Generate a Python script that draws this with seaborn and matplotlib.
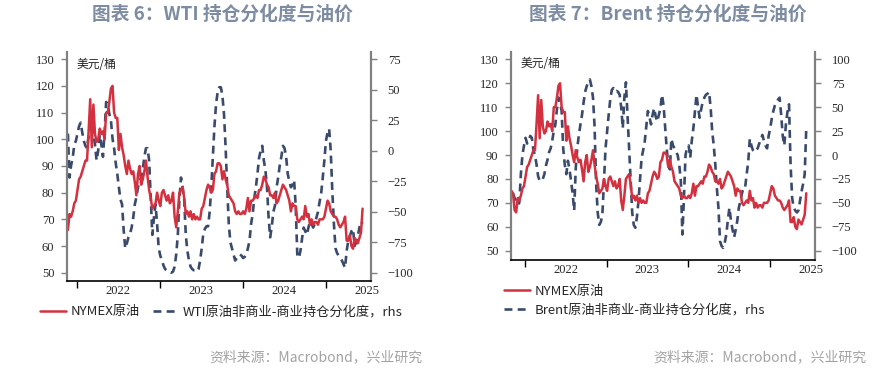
import pandas as pd
import numpy as np
import matplotlib
matplotlib.use('Agg')
import matplotlib.pyplot as plt
import matplotlib.dates as mdates
import seaborn as sns

# weekly data, Tuesday report dates
start_date = '2021-11-02'

# NYMEX crude (USD/bbl)
oil = [75, 74, 67, 66, 72, 71, 73, 76,
       77, 81, 85, 86, 88, 90, 92, 92, 103, 115, 97, 113, 102,
       99, 100, 104, 102, 103, 100, 110, 110, 114, 119, 120, 110, 108,
       108, 96, 102, 97, 94, 90, 87, 92, 89, 87, 88, 84, 79,
       87, 90, 83, 85, 88, 92, 86, 81, 78, 74, 75, 76, 80,
       77, 75, 80, 81, 79, 77, 79, 76, 77, 80, 71, 67, 73,
       80, 81, 82, 78, 72, 73, 71, 73, 70, 72, 70, 71, 70,
       70, 74, 75, 78, 81, 83, 82, 80, 81, 87, 88, 91, 91,
       90, 85, 88, 85, 83, 79, 78, 77, 76, 73, 72, 73, 72,
       72, 73, 72, 74, 78, 73, 77, 77, 78, 79, 78, 81, 81,
       83, 86, 85, 83, 82, 79, 79, 78, 80, 76, 77, 79, 81,
       83, 82, 81, 79, 77, 73, 76, 75, 75, 70, 69, 70, 71,
       70, 75, 71, 72, 68, 70, 68, 69, 69, 68, 70, 70, 70, 71,
       74, 77, 76, 73, 72, 71, 71, 70, 68, 67, 68, 69,
       71, 62, 62, 64, 60, 59, 63, 62, 61, 63, 65, 74]

# WTI non-commercial minus commercial positioning (rhs), starts 4th week
wti_pos = [14, -22, -12, -6, 5, 8, 14, 20, 23, 15, 8, 4, 2, 12, 20, 24, 14, 5,
           -8, 0, 13, 5, -5, 15, 40, 38, 30, 25, 10, 2, -10, -19, -30, -40, -44,
           -65, -80, -76, -71, -68, -63, -55, -44, -38, -30, -25, -22, -15, -5, 2,
           2, -8, -38, -69, -55, -44, -60, -80, -86, -90, -94, -97, -98, -99, -99,
           -100, -99, -95, -85, -69, -40, -22, -30, -40, -69, -82, -90, -95, -97,
           -98, -98, -99, -97, -90, -80, -68, -64, -62, -62, -50, -30, -5, 20, 38,
           48, 52, 52, 45, 30, 3, -30, -60, -75, -80, -85, -90, -88, -86, -85,
           -86, -88, -87, -85, -80, -74, -60, -52, -39, -30, -19, -6, 0, 4, -8,
           -16, -30, -55, -71, -62, -50, -45, -30, -22, -12, -5, 4, 2, -5, -19,
           -25, -30, -28, -24, -45, -85, -88, -82, -72, -63, -66, -69, -63, -58,
           -60, -63, -60, -55, -50, -42, -35, -22, -8, 8, 15, 18, 0, -33, -60,
           -80, -84, -86, -88, -90, -93, -96, -82, -74, -70, -66, -64, -78, -75,
           -70, -63, -58, -60]

# Brent non-commercial minus commercial positioning (rhs), starts 2nd week
brent_pos = [-40, -45, -48, -52, -50, -20, 0, 10, 18, 12, 15, 20, 18, 5, 0, -10,
             -22, -27, -27, -25, -20, -11, -5, 3, 7, 15, 25, 32, 48, 60, 55, 46,
             7, -10, -20, -6, -15, -27, -40, -58, -14, 8, 21, 32, 42, 55, 66, 72,
             76, 79, 72, 60, 30, -30, -60, -73, -70, -62, -27, 7, 25, 42, 58, 68,
             70, 66, 67, 66, 63, 50, 28, 60, 76, 42, 7, -27, -60, -73, -76, -65,
             -48, -25, -3, 5, 14, 30, 46, 40, 32, 42, 49, 40, 35, 42, 49, 63, 52,
             30, 7, -10, -15, 17, 10, 7, 3, 0, -10, -27, -83, -45, 0, 8, 10, -3,
             15, 28, 45, 63, 50, 39, 48, 56, 60, 63, 64, 66, 50, 25, 10, -10, -35,
             -55, -90, -95, -97, -92, -83, -68, -55, -69, -78, -86, -78, -69, -55,
             -48, -40, -34, -34, -20, -7, 17, 10, 5, 3, 5, 7, 12, 16, 21, 15, 10,
             7, 20, 28, 38, 46, 52, 56, 58, 60, 42, 20, 10, 32, 45, 53, -10, -45,
             -55, -58, -60, -58, -48, -38, -30, -20, 28]

year_ticks = ['2022', '2023', '2024', '2025']

RED = '#d3313f'
NAVY = '#3a4a6c'
TITLE_C = '#7d8ca2'
GRAY = '#808080'

sns.set_style('white')
plt.rcParams['font.family'] = ['Noto Sans CJK SC', 'DejaVu Sans']
NUM_FONT = 'Liberation Serif'

dates = pd.date_range(start_date, periods=len(oil), freq='7D')
oil_df = pd.DataFrame({'date': dates, 'oil': oil})
wti_df = pd.DataFrame({'date': dates[3:3 + len(wti_pos)], 'pos': wti_pos[:len(dates) - 3]})
brent_df = pd.DataFrame({'date': dates[1:1 + len(brent_pos)], 'pos': brent_pos[:len(dates) - 1]})


def draw_panel(ax, o_df, p_df, pos_label, lhs_lim, rhs_lim, rhs_ticks, xlim):
    ax2 = ax.twinx()
    sns.lineplot(data=p_df, x='date', y='pos', ax=ax2, color=NAVY, linewidth=1.9,
                 linestyle=(0, (3.0, 2.0)), label=pos_label, legend=False)
    sns.lineplot(data=o_df, x='date', y='oil', ax=ax, color=RED, linewidth=1.8,
                 label='NYMEX原油', legend=False)
    ax.set_zorder(ax2.get_zorder() + 1)
    ax.patch.set_visible(False)

    ax.set_xlim(pd.Timestamp(xlim[0]), pd.Timestamp(xlim[1]))
    ax.set_ylim(*lhs_lim)
    ax2.set_ylim(*rhs_lim)
    ax.set_yticks(range(50, 131, 10))
    ax2.set_yticks(rhs_ticks)
    ax.set_xlabel('')
    ax.set_ylabel('')
    ax2.set_ylabel('')

    ax.xaxis.set_major_locator(mdates.YearLocator())
    ax.xaxis.set_major_formatter(plt.NullFormatter())
    mids = [pd.Timestamp(y + '-07-01') for y in year_ticks]
    ax.set_xticks(mids, minor=True)
    ax.set_xticklabels(year_ticks, minor=True, fontfamily=NUM_FONT, fontsize=9)
    ax.tick_params(axis='x', which='major', direction='out', length=5, width=1,
                   color='black', bottom=True)
    ax.tick_params(axis='x', which='minor', length=0, pad=3, bottom=True)

    ax.tick_params(axis='y', direction='out', length=4, width=1, color=GRAY, pad=5,
                   left=True)
    ax2.tick_params(axis='y', direction='out', length=4, width=1, color=GRAY, pad=8,
                    right=True)
    for lab in ax.get_yticklabels() + ax2.get_yticklabels():
        lab.set_fontfamily(NUM_FONT)
        lab.set_fontsize(9)

    for a in (ax, ax2):
        a.spines['top'].set_visible(False)
    ax.spines['left'].set_color(GRAY)
    ax.spines['left'].set_linewidth(1.6)
    ax.spines['bottom'].set_color('black')
    ax.spines['bottom'].set_linewidth(1.2)
    ax.spines['right'].set_visible(False)
    ax2.spines['right'].set_color(GRAY)
    ax2.spines['right'].set_linewidth(1.6)
    ax2.spines['left'].set_visible(False)
    ax2.spines['bottom'].set_visible(False)

    ax.text(0.03, 0.975, '美元/桶', transform=ax.transAxes, ha='left', va='top',
            fontsize=8.5, color='#222222')
    return ax2


fig = plt.figure(figsize=(8.96, 3.70), dpi=100)
W, H = 896, 370

ax_l = fig.add_axes([67 / W, 1 - 281 / H, 304 / W, 229 / H])
ax_l2 = draw_panel(ax_l, oil_df.iloc[3:], wti_df, 'WTI原油非商业-商业持仓分化度，rhs',
                   (46.9, 132.7), (-106.8, 80.9), range(-100, 76, 25),
                   ('2021-11-19', '2025-07-17'))

ax_r = fig.add_axes([511 / W, 1 - 260 / H, 304 / W, 208.3 / H])
ax_r2 = draw_panel(ax_r, oil_df, brent_df, 'Brent原油非商业-商业持仓分化度，rhs',
                   (46.1, 133.2), (-109.7, 108.0), range(-100, 101, 25),
                   ('2021-10-31', '2025-07-19'))

# legends
h1, l1 = ax_l.get_legend_handles_labels()
h2, l2 = ax_l2.get_legend_handles_labels()
fig.legend(h1 + h2, l1 + l2, loc='center left', bbox_to_anchor=(40 / W, 1 - 312 / H),
           ncol=2, frameon=False, fontsize=9.5, handlelength=2.0, handletextpad=0.3,
           columnspacing=1.0, borderaxespad=0, borderpad=0)

h1, l1 = ax_r.get_legend_handles_labels()
h2, l2 = ax_r2.get_legend_handles_labels()
fig.legend(h1 + h2, l1 + l2, loc='center left', bbox_to_anchor=(504 / W, 1 - 300.5 / H),
           ncol=1, frameon=False, fontsize=9.5, handlelength=2.0, handletextpad=0.3,
           labelspacing=0.45, borderaxespad=0, borderpad=0)

# titles
fig.text(222 / W, 1 - 14 / H, '图表 6：WTI 持仓分化度与油价', ha='center', va='center',
         fontsize=13.5, fontweight='bold', color=TITLE_C)
fig.text(668 / W, 1 - 14 / H, '图表 7：Brent 持仓分化度与油价', ha='center', va='center',
         fontsize=13.5, fontweight='bold', color=TITLE_C)

# source notes
fig.text(422 / W, 1 - 357 / H, '资料来源：Macrobond，兴业研究', ha='right', va='center',
         fontsize=10, color='#a3a3a3')
fig.text(866 / W, 1 - 357 / H, '资料来源：Macrobond，兴业研究', ha='right', va='center',
         fontsize=10, color='#a3a3a3')

fig.savefig('out.png', dpi=100, facecolor='white')
